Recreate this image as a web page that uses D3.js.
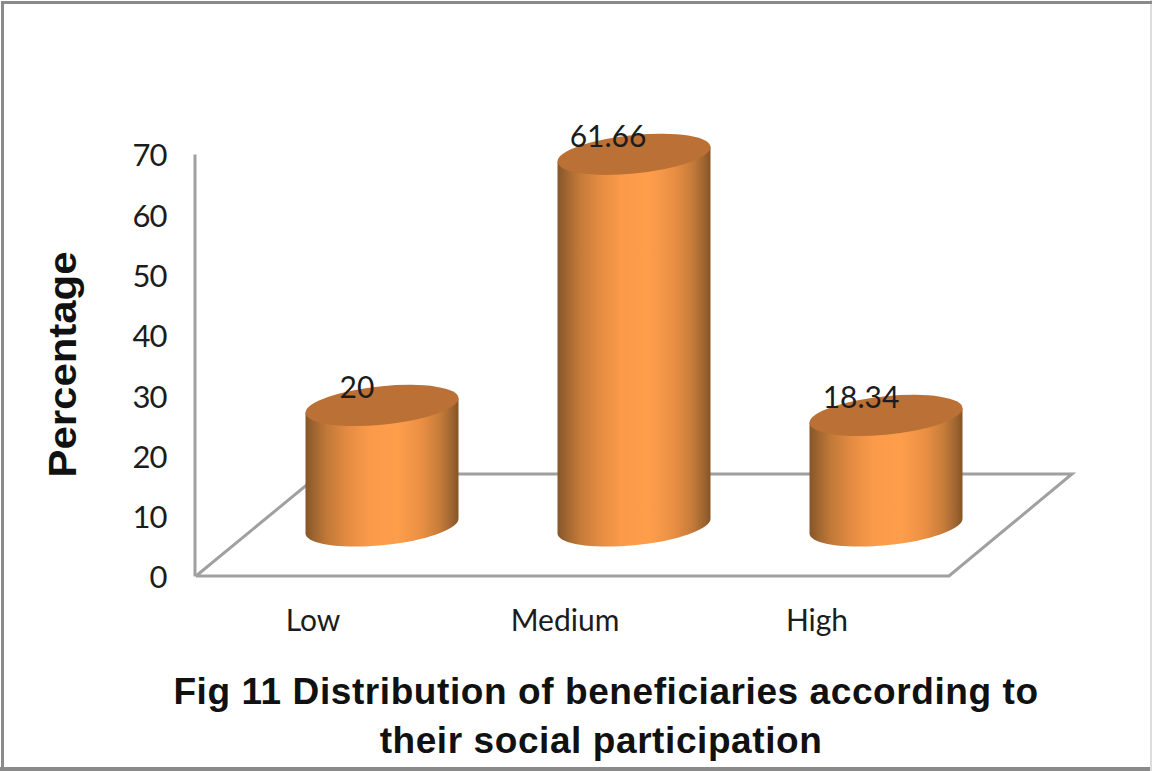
<!DOCTYPE html>
<html>
<head>
<meta charset="utf-8">
<script src="https://cdn.jsdelivr.net/npm/d3@7/dist/d3.min.js"></script>
<style>
html,body{margin:0;padding:0;background:#fff}
svg{display:block}
</style>
</head>
<body>
<script>
const categories = ["Low", "Medium", "High"];
const percentages = [20, 61.66, 18.34];
const valueLabels = ["20", "61.66", "18.34"];
const yTicks = [0, 10, 20, 30, 40, 50, 60, 70];
const titleLines = ["Fig 11 Distribution of beneficiaries according to", "their social participation"];
const yTitle = "Percentage";

const W = 1152, H = 771;
const svg = d3.select("body").append("svg").attr("width", W).attr("height", H);

// Value axis on the back wall; bars stand further in, on the floor
const y = d3.scaleLinear().domain([0, 70]).range([576, 154]);
const x = d3.scalePoint().domain(categories).range([382, 886]);
const floorDepth = 50;       // vertical shift from the axis base to the bar base
const labelShift = -69;      // category labels sit on the front edge of the floor
const rx = 76.5, ry = 19.3, skew = 0.095;
const barBase = y(0) - floorDepth;

// Outer frame: heavy on three sides, faint on the right
const frame = svg.append("g").attr("fill", "none");
frame.append("path").attr("d", "M1151,0V771").attr("stroke", "#dcdcdc").attr("stroke-width", 2);
frame.append("path").attr("d", "M2.5,771V2.5H1152").attr("stroke", "#8a8a8a").attr("stroke-width", 3);
frame.append("path").attr("d", "M0,769H1150").attr("stroke", "#8a8a8a").attr("stroke-width", 4);

// Cylinder shading
const defs = svg.append("defs");
const grad = defs.append("linearGradient").attr("id", "cyl").attr("x1", 0).attr("x2", 1).attr("y1", 0).attr("y2", 0);
[[0, "#875526"], [0.05, "#9c6330"], [0.14, "#c27938"], [0.28, "#e58c42"], [0.42, "#fb9b4a"], [0.60, "#fe9e4b"], [0.76, "#e98f44"], [0.88, "#c67c3a"], [0.96, "#9c6430"], [1, "#855425"]]
  .forEach(([o, c]) => grad.append("stop").attr("offset", o).attr("stop-color", c));

// Floor and axis lines
const floorColor = "#a0a0a0";
const floor = svg.append("g").attr("fill", "none").attr("stroke", floorColor).attr("stroke-width", 3).attr("stroke-linejoin", "miter");
floor.append("path").attr("d", d3.line()([[196, 576], [949, 576], [1072, 474], [320, 474], [196, 576]]));

// Value axis drawn with d3 and restyled: no ticks, wall line kept
const axisG = svg.append("g").attr("transform", "translate(194.5,0)")
  .call(d3.axisLeft(y).tickValues(yTicks).tickSize(0).tickPadding(28));
axisG.select(".domain").attr("stroke", floorColor).attr("stroke-width", 3);
axisG.selectAll("text")
  .attr("y", 2)
  .attr("font-family", "Lato, sans-serif").attr("font-size", 31).attr("letter-spacing", -1).attr("fill", "#1c1c1c");

// Bars as sheared cylinders: body first, then the lid
const bars = svg.append("g").selectAll("g").data(percentages).join("g");
bars.append("path")
  .attr("fill", "url(#cyl)")
  .attr("d", (d, i) => {
    const cx = x(categories[i]), top = y(d) - floorDepth;
    const lift = rx * skew;
    return `M${cx - rx},${top + lift} L${cx + rx},${top - lift} L${cx + rx},${barBase - lift} ` +
      d3.range(0, 181, 5).map(a => {
        const t = a * Math.PI / 180;
        const px = rx * Math.cos(t), py = ry * Math.sin(t);
        return `L${cx + px},${barBase + py - skew * px}`;
      }).join(" ") + " Z";
  });
bars.append("ellipse")
  .attr("rx", rx).attr("ry", ry)
  .attr("fill", "#bb7035")
  .attr("transform", (d, i) => `matrix(1,${-skew},0,1,${x(categories[i])},${y(d) - floorDepth})`);

// Value labels, overlapping the lids
svg.append("g").selectAll("text").data(percentages).join("text")
  .attr("x", (d, i) => x(categories[i]) + [-25, -26, -25][i])
  .attr("y", (d, i) => y(d) - floorDepth - 7)
  .attr("text-anchor", "middle")
  .attr("font-family", "Lato, sans-serif").attr("font-size", 30).attr("fill", "#1c1c1c")
  .text((d, i) => valueLabels[i]);

// Category labels
svg.append("g").selectAll("text").data(categories).join("text")
  .attr("x", d => x(d) + labelShift)
  .attr("y", 631)
  .attr("text-anchor", "middle")
  .attr("font-family", "Lato, sans-serif").attr("font-size", 30).attr("fill", "#1c1c1c")
  .text(d => d);

// Axis title
svg.append("text")
  .attr("transform", "translate(76,364.5) rotate(-90)")
  .attr("text-anchor", "middle")
  .attr("font-family", "'Liberation Sans', Arial, sans-serif").attr("font-weight", "bold")
  .attr("font-size", 38).attr("fill", "#111")
  .attr("textLength", 226).attr("lengthAdjust", "spacingAndGlyphs")
  .text(yTitle);

// Chart title
svg.append("g").selectAll("text").data(titleLines).join("text")
  .attr("x", (d, i) => [606, 601][i])
  .attr("y", (d, i) => [704, 753][i])
  .attr("text-anchor", "middle")
  .attr("font-family", "'Liberation Sans', Arial, sans-serif").attr("font-weight", "bold")
  .attr("font-size", 37).attr("letter-spacing", 0.58).attr("fill", "#111")
  .text(d => d);
</script>
</body>
</html>
